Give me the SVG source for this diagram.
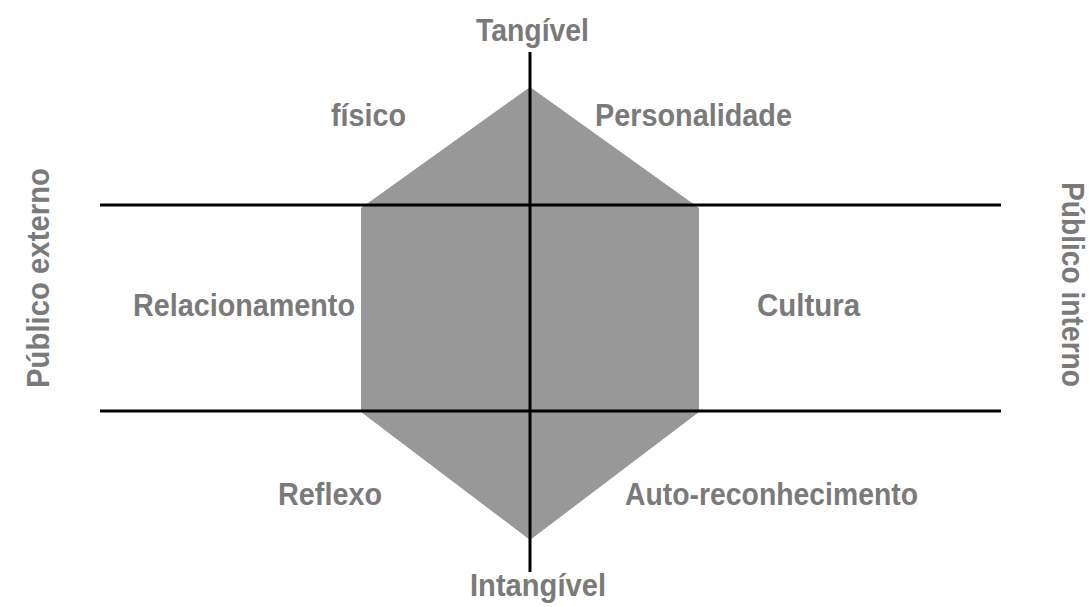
<svg xmlns="http://www.w3.org/2000/svg" width="1089" height="607" viewBox="0 0 1089 607">
<style>
.t{font-family:"Liberation Sans",Arial,sans-serif;font-weight:bold;font-size:32px;fill:#7a7a7a;}
.ax{stroke:#000;stroke-width:3;fill:none;}
</style>
<rect width="1089" height="607" fill="#fff"/>
<g id="hexagon">
<polygon points="530,87 699,208 699,412 530,540 361,412 361,208" fill="#989898"/>
</g>
<g id="connectors">
<line class="ax" x1="100" y1="205" x2="1001" y2="205"/>
<line class="ax" x1="100" y1="411" x2="1001" y2="411"/>
<line class="ax" x1="530" y1="52" x2="530" y2="572"/>
</g>
<g id="labels">
<text class="t" x="476" y="41" textLength="113" lengthAdjust="spacingAndGlyphs">Tangível</text>
<text class="t" x="331" y="126" textLength="75" lengthAdjust="spacingAndGlyphs">físico</text>
<text class="t" x="595" y="126" textLength="197" lengthAdjust="spacingAndGlyphs">Personalidade</text>
<text class="t" x="133" y="316" textLength="222" lengthAdjust="spacingAndGlyphs">Relacionamento</text>
<text class="t" x="757" y="316" textLength="103" lengthAdjust="spacingAndGlyphs">Cultura</text>
<text class="t" x="278" y="505" textLength="104" lengthAdjust="spacingAndGlyphs">Reflexo</text>
<text class="t" x="625" y="505" textLength="293" lengthAdjust="spacingAndGlyphs">Auto-reconhecimento</text>
<text class="t" x="470" y="596" textLength="136" lengthAdjust="spacingAndGlyphs">Intangível</text>
<text class="t" transform="translate(49,388) rotate(-90)" textLength="220" lengthAdjust="spacingAndGlyphs">Público externo</text>
<text class="t" transform="translate(1062,182) rotate(90)" textLength="205" lengthAdjust="spacingAndGlyphs">Público interno</text>
</g>
</svg>
